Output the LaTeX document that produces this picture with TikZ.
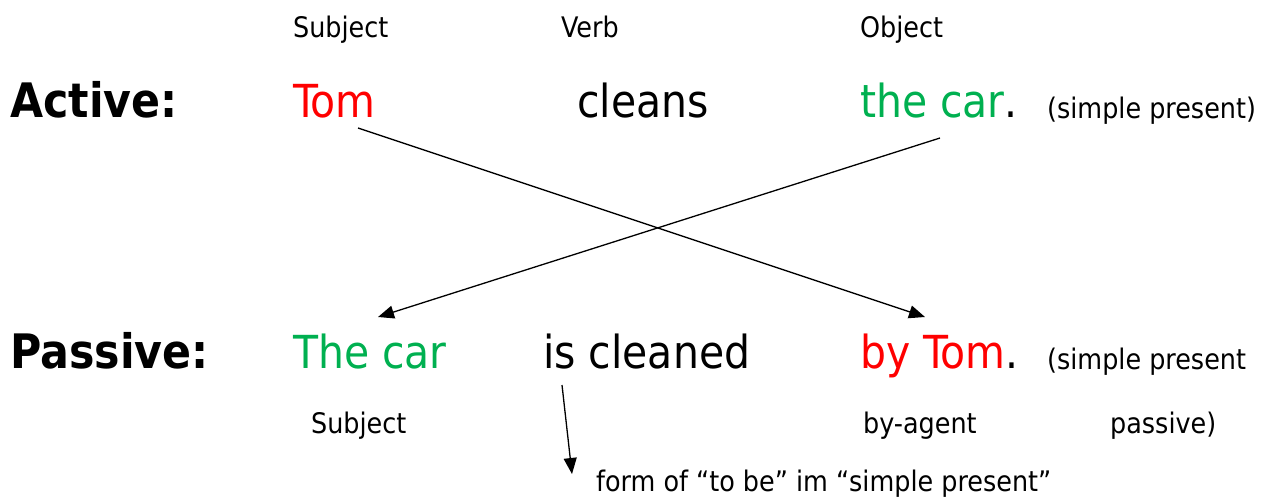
\documentclass[tikz,border=0pt]{standalone}
\usepackage{fontspec}
\setmainfont{DejaVu Sans Condensed}
\usetikzlibrary{arrows.meta}
\definecolor{tred}{HTML}{FF0000}
\definecolor{tgreen}{HTML}{00B050}
\tikzset{
  small/.style={anchor=base west, inner sep=0pt, font=\fontsize{28.3}{30}\selectfont},
  big/.style={anchor=base west, inner sep=0pt, font=\fontsize{45.5}{48}\selectfont},
  bigb/.style={anchor=base west, inner sep=0pt, font=\fontsize{47.5}{50}\selectfont\bfseries},
  conn/.style={line width=1.3pt, -{Triangle[length=16pt,width=13pt]}}
}
\begin{document}
\begin{tikzpicture}[x=1pt,y=-1pt]
\useasboundingbox (0,0) rectangle (1263,497);
% top labels
\node[small] (lsubj) at (293,38) {Subject};
\node[small] (lverb) at (561,38) {Verb};
\node[small] (lobj) at (860,38) {Object};
% active row
\node[bigb] (active) at (10,118) {Active:};
\node[big,text=tred] (tom) at (293,118) {Tom};
\node[big] (cleans) at (577,118) {cleans};
\node[big] (thecar) at (860,118) {\textcolor{tgreen}{the car}.};
\node[small] (sp1) at (1047,119) {(simple present)};
% passive row
\node[bigb] (passive) at (10,368) {Passive:};
\node[big,text=tgreen] (Thecar) at (293,368) {The car};
\node[big] (iscleaned) at (543,368) {is cleaned};
\node[big] (bytom) at (860,368) {\textcolor{tred}{by Tom}.};
\node[small] (sp2) at (1047,369) {(simple present};
% bottom labels
\node[small] (bsubj) at (311,433) {Subject};
\node[small] (agent) at (863,433) {by-agent};
\node[small] (pas) at (1110,433) {passive)};
\node[small] (form) at (596,491) {form of “to be” im “simple present”};
% connector ends
\coordinate (s1) at (358,128);
\coordinate (e1) at (925,317);
\coordinate (s2) at (940,138);
\coordinate (e2) at (378,317);
\coordinate (s3) at (562,385);
\coordinate (e3) at (572,474);
\draw[conn] (s1) -- (e1);
\draw[conn] (s2) -- (e2);
\draw[conn] (s3) -- (e3);
\end{tikzpicture}
\end{document}
